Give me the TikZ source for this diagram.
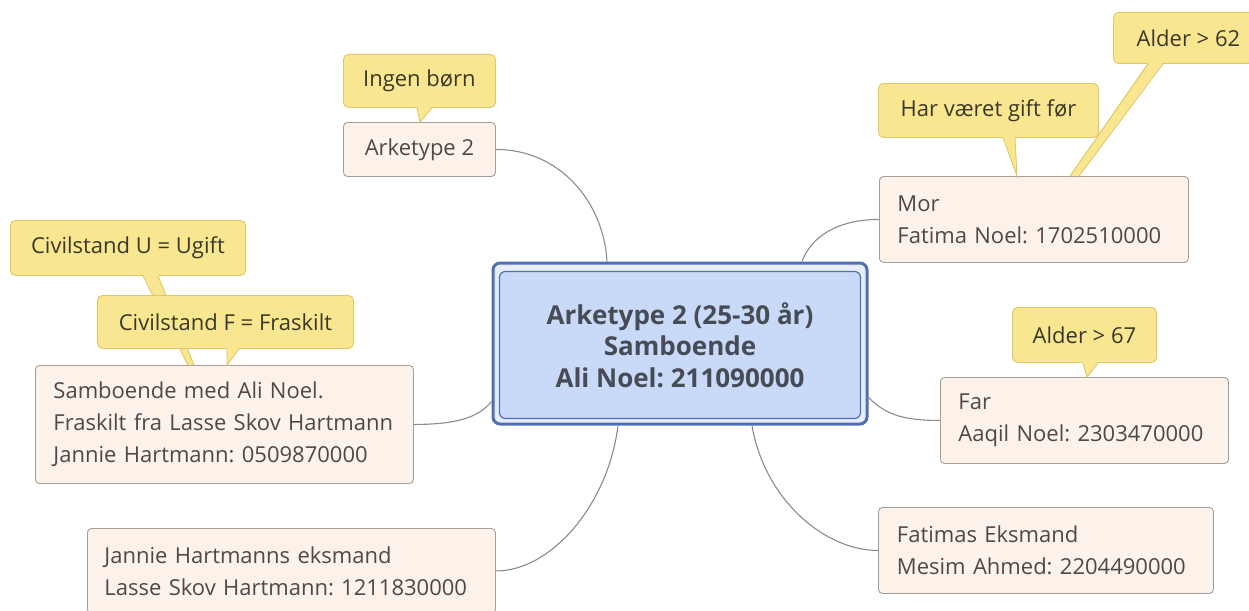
\documentclass[tikz,border=0pt]{standalone}
\usepackage{fontspec}
\setmainfont{Open Sans}
\usetikzlibrary{calc}
\definecolor{childfill}{HTML}{FDF2EA}
\definecolor{childborder}{HTML}{A39E9A}
\definecolor{childtext}{HTML}{4A4A4A}
\definecolor{callfill}{HTML}{F9E690}
\definecolor{callborder}{HTML}{E0C866}
\definecolor{calltext}{HTML}{3A3828}
\definecolor{cblue}{HTML}{4E70B6}
\definecolor{cfill}{HTML}{C8DAF8}
\definecolor{cgap}{HTML}{E6EDF8}
\definecolor{ctext}{HTML}{474B55}
\definecolor{connc}{HTML}{8C8C8C}
\newcommand{\chfont}{\fontsize{22}{32}\selectfont}
\newcommand{\cenfont}{\fontsize{26}{31.5}\selectfont\bfseries}
\frenchspacing
\begin{document}
\begin{tikzpicture}[x=1pt,y=-1pt,
  childbox/.style={draw=childborder, fill=childfill, rounded corners=4pt, line width=0.9pt,
    text=childtext, font=\chfont, anchor=north west, inner xsep=18pt, inner ysep=0pt, align=left},
  calloutbox/.style={draw=callborder, fill=callfill, rounded corners=5pt, line width=0.9pt,
    text=calltext, font=\chfont, anchor=north west, inner sep=0pt, align=center},
  conn/.style={draw=connc, line width=1.1pt},
  ptrside/.style={draw=callborder, line width=0.9pt},
  ]
\clip (0,0) rectangle (1249,610);
\fill[white] (0,0) rectangle (1249,610);

% central topic
\node[draw=cblue, line width=3pt, fill=cgap, rounded corners=7pt, minimum width=374pt, minimum height=161pt, inner sep=0pt] (cframe) at (680,343.5) {};
\node[draw=cblue, line width=1.2pt, fill=cfill, rounded corners=6pt, minimum width=361pt, minimum height=147pt, inner sep=0pt, text=ctext, font=\cenfont, align=center] (c) at (680,345)
  {Arketype 2 (25-30 år)\\Samboende\\Ali Noel: 211090000};

% child topics
\node[childbox, inner xsep=0pt, align=center, minimum width=152pt, minimum height=54pt] (arke) at (343,122) {Arketype 2};
\node[childbox, text width=273pt, minimum height=86pt] (mor) at (879,176) {Mor\\Fatima Noel: 1702510000};
\node[childbox, text width=252pt, minimum height=86pt] (far) at (940,377) {Far\\Aaqil Noel: 2303470000};
\node[childbox, text width=298pt, minimum height=86pt, inner xsep=18.5pt] (fatimas) at (878,507) {Fatimas Eksmand\\Mesim Ahmed: 2204490000};
\node[childbox, text width=342pt, minimum height=118pt] (jannie) at (35,365) {Samboende med Ali Noel.\\Fraskilt fra Lasse Skov Hartmann\\Jannie Hartmann: 0509870000};
\node[childbox, text width=374pt, minimum height=85pt, inner xsep=17pt] (eks) at (87,528) {Jannie Hartmanns eksmand\\Lasse Skov Hartmann: 1211830000};

% connectors
\draw[conn] (arke.east) .. controls +(65,0) and +(-3,-58) .. ([xshift=-73pt]cframe.north);
\draw[conn] (mor.west) .. controls +(-45,0) and +(8,-22) .. ([xshift=122pt]cframe.north);
\draw[conn] ([yshift=-54pt]cframe.east) .. controls +(18,18) and +(-35,0) .. (far.west);
\draw[conn] ([xshift=72pt]cframe.south) .. controls +(12,72) and +(-55,0) .. (fatimas.west);
\draw[conn] ([xshift=-62pt]cframe.south) .. controls +(-10,80) and +(55,0) .. (eks.east);
\draw[conn] (jannie.east) .. controls +(45,0) and +(-12,15) .. ([yshift=-58pt]cframe.west);

% callout: Ingen boern
\node[calloutbox, minimum width=152pt, minimum height=53pt] (ingen) at (343,54) {Ingen børn};
\fill[callfill] ($(ingen.south west)+(74,-1.5)$) -- ($(ingen.south west)+(89,-1.5)$) -- ($(arke.north west)+(77,0)$) -- cycle;
\draw[ptrside] ($(ingen.south west)+(74,0)$) -- ($(arke.north west)+(77,0)$) -- ($(ingen.south west)+(89,0)$);

% callout: Har vaeret gift foer
\node[calloutbox, minimum width=220pt, minimum height=54pt] (gift) at (878,83) {Har været gift før};
\fill[callfill] ($(gift.south west)+(125,-1.5)$) -- ($(gift.south west)+(137,-1.5)$) -- ($(mor.north west)+(138,0)$) -- cycle;
\draw[ptrside] ($(gift.south west)+(125,0)$) -- ($(mor.north west)+(138,0)$) -- ($(gift.south west)+(137,0)$);

% callout: Alder > 62
\node[calloutbox, minimum width=150pt, minimum height=51pt] (a62) at (1113,12) {Alder > 62};
\fill[callfill] ($(a62.south west)+(35,-1.5)$) -- ($(a62.south west)+(50,-1.5)$) -- ($(mor.north west)+(200,0)$) -- ($(mor.north west)+(191,0)$) -- cycle;
\draw[ptrside] ($(a62.south west)+(35,0)$) -- ($(mor.north west)+(191,0)$);
\draw[ptrside] ($(a62.south west)+(50,0)$) -- ($(mor.north west)+(200,0)$);

% callout: Alder > 67
\node[calloutbox, minimum width=144pt, minimum height=55pt] (a67) at (1012,307) {Alder > 67};
\fill[callfill] ($(a67.south west)+(71,-1.5)$) -- ($(a67.south west)+(86,-1.5)$) -- ($(far.north west)+(147,0)$) -- cycle;
\draw[ptrside] ($(a67.south west)+(71,0)$) -- ($(far.north west)+(147,0)$) -- ($(a67.south west)+(86,0)$);

% callout: Civilstand U = Ugift
\node[calloutbox, minimum width=235pt, minimum height=55pt] (civu) at (10,220) {Civilstand U = Ugift};
\fill[callfill] ($(civu.south west)+(133,-1.5)$) -- ($(civu.south west)+(148,-1.5)$) -- ($(jannie.north west)+(159,0)$) -- ($(jannie.north west)+(153,0)$) -- cycle;
\draw[ptrside] ($(civu.south west)+(133,0)$) -- ($(jannie.north west)+(153,0)$);
\draw[ptrside] ($(civu.south west)+(148,0)$) -- ($(jannie.north west)+(159,0)$);

% callout: Civilstand F = Fraskilt
\node[calloutbox, minimum width=256pt, minimum height=53pt] (civf) at (97,295) {Civilstand F = Fraskilt};
\fill[callfill] ($(civf.south west)+(130,-1.5)$) -- ($(civf.south west)+(142,-1.5)$) -- ($(jannie.north west)+(192,0)$) -- cycle;
\draw[ptrside] ($(civf.south west)+(130,0)$) -- ($(jannie.north west)+(192,0)$) -- ($(civf.south west)+(142,0)$);
\end{tikzpicture}
\end{document}
